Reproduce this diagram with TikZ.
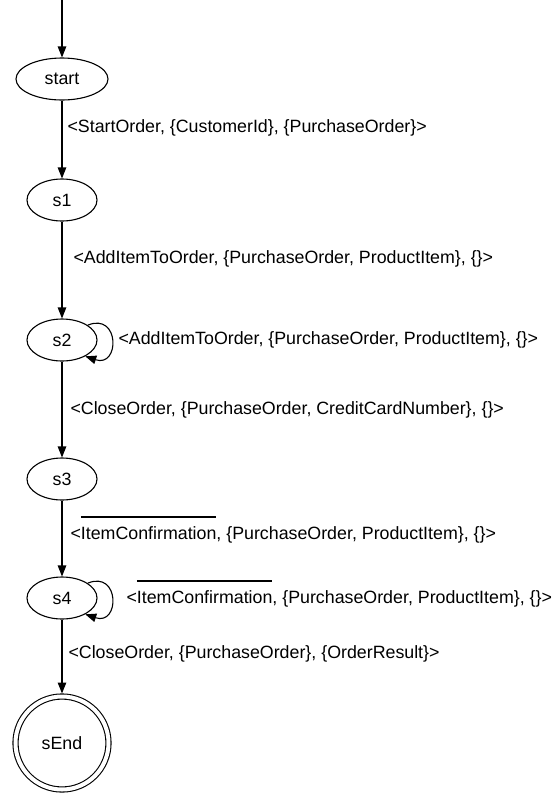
\documentclass[tikz,border=0pt]{standalone}
\usepackage{fontspec}
\setmainfont{Liberation Sans}
\usepackage{tikz}
\usetikzlibrary{shapes.geometric}
\usetikzlibrary{arrows.meta}
\tikzset{state/.style={ellipse, draw, inner sep=0pt, minimum width=70pt, minimum height=42pt},
 final/.style={circle, draw, double, double distance=4pt, inner sep=0pt, minimum size=93pt, outer sep=3pt},
 trans/.style={anchor=west, inner sep=0pt},
 arr/.style={-{Triangle[length=11pt,width=8.5pt]}},
 }
\newcommand{\negbar}[1]{\setbox0\hbox{#1}\rlap{\smash{\vrule width\wd0 height 1.30em depth -1.19em}}\box0}

\begin{document}
\begin{tikzpicture}[x=1pt, y=-1pt, line width=1.1pt, font=\fontsize{17.8}{21}\selectfont]
        \useasboundingbox (0, 0) rectangle (555, 793);
        \coordinate (init) at (62, 0);
        \node[state, minimum width=92pt] (start) at (62, 79) {start};
        \node[state] (s1) at (62, 200) {s1};
        \node[state] (s2) at (62, 340) {s2};
        \node[state] (s3) at (62, 479) {s3};
        \node[state] (s4) at (62, 598) {s4};
        \node[final] (sEnd) at (62, 743) {sEnd};

        \draw[arr] (init) -- (start);
        \draw[arr] (start) -- (s1);
        \node[trans] (t1) at (67, 128) {<StartOrder, \{CustomerId\}, \{PurchaseOrder\}>};
        \draw[arr] (s1) -- (s2);
        \node[trans] (t2) at (73, 259) {<AddItemToOrder, \{PurchaseOrder, ProductItem\}, \{\}>};
        \draw[arr] (s2.30) .. controls (120, 312) and (120, 368) .. (s2.-35);
        \node[trans] (t3) at (118, 340) {<AddItemToOrder, \{PurchaseOrder, ProductItem\}, \{\}>};
        \draw[arr] (s2) -- (s3);
        \node[trans] (t4) at (70, 410) {<CloseOrder, \{PurchaseOrder, CreditCardNumber\}, \{\}>};
        \draw[arr] (s3) -- (s4);
        \node[trans] (t5) at (70, 535) {<\negbar{ItemConfirmation}, \{PurchaseOrder, ProductItem\}, \{\}>};
        \draw[arr] (s4.30) .. controls (120, 570) and (120, 626) .. (s4.-35);
        \node[trans] (t6) at (126, 599) {<\negbar{ItemConfirmation}, \{PurchaseOrder, ProductItem\}, \{\}>};
        \draw[arr] (s4) -- (sEnd);
        \node[trans] (t7) at (68, 654) {<CloseOrder, \{PurchaseOrder\}, \{OrderResult\}>};
\end{tikzpicture}
\end{document}
